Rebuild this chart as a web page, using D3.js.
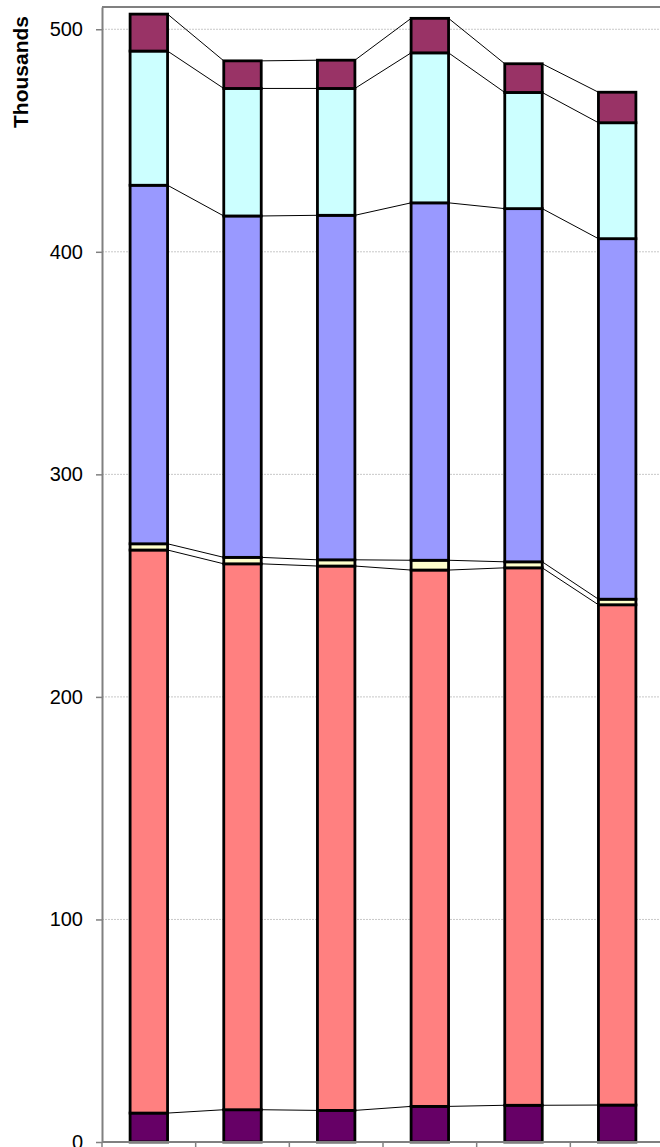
<!DOCTYPE html>
<html>
<head>
<meta charset="utf-8">
<script src="https://cdn.jsdelivr.net/npm/d3@7"></script>
<style>
body {margin:0; background:#fff; overflow:hidden}
text {font-family: Arial, "Liberation Sans", sans-serif}
</style>
</head>
<body>
<script>
// values in thousands (bottom series first)
var categories = ["1", "2", "3", "4", "5", "6"]
var purpleVals = [13.0, 14.5, 14.2, 16.0, 16.5, 16.6]
var redVals    = [253.0, 245.3, 244.6, 241.0, 241.5, 224.8]
var yellowVals = [2.8, 2.9, 2.8, 4.4, 2.7, 2.5]
var blueVals   = [161.1, 153.4, 154.8, 160.6, 158.7, 162.0]
var cyanVals   = [60.3, 57.3, 57.0, 67.4, 52.2, 52.1]
var maroonVals = [16.6, 12.4, 12.7, 15.5, 12.9, 13.7]
var seriesKeys = ["purple", "red", "yellow", "blue", "cyan", "maroon"]
var seriesColors = ["#660066", "#FF8080", "#FFFFCC", "#9999FF", "#CCFFFF", "#993366"]
var yTicks = [0, 100, 200, 300, 400, 500]

var setup = function()
{
    var screen = {width: 660, height: 1147}
    var margins = {top: 7, left: 102}
    var plotRight = 664
    var zeroY = 1142

    // table for d3.stack
    var rows = categories.map(function(c, i) {
        return {cat: c, purple: purpleVals[i], red: redVals[i], yellow: yellowVals[i],
                blue: blueVals[i], cyan: cyanVals[i], maroon: maroonVals[i]}
    })
    var stacked = d3.stack().keys(seriesKeys)(rows)

    var xScale = d3.scaleBand()
        .domain(categories)
        .range([margins.left, plotRight])
        .paddingInner(0.6)
        .paddingOuter(0.3)

    var yScale = d3.scaleLinear()
        .domain([0, 510])
        .range([zeroY, margins.top])

    var cScale = d3.scaleOrdinal().domain(seriesKeys).range(seriesColors)

    var svg = d3.select("body")
        .append("svg")
        .attr("width", screen.width)
        .attr("height", screen.height)

    // gridlines
    svg.append("g")
        .selectAll("line")
        .data(yTicks.filter(function(t) { return t > 0 }))
        .enter()
        .append("line")
        .attr("x1", margins.left)
        .attr("x2", plotRight)
        .attr("y1", function(d) { return yScale(d) })
        .attr("y2", function(d) { return yScale(d) })
        .attr("stroke", "#c8c8c8")
        .attr("stroke-width", 1)
        .attr("stroke-dasharray", "2,1")

    // top border of plot area
    svg.append("line")
        .attr("x1", margins.left).attr("x2", plotRight)
        .attr("y1", margins.top).attr("y2", margins.top)
        .attr("stroke", "#808080")
        .attr("stroke-width", 2)

    // series lines between the bars
    var bw = xScale.bandwidth()
    var segs = []
    stacked.forEach(function(s) {
        for (var i = 0; i < s.length - 1; i++) {
            segs.push({x1: xScale(categories[i]) + bw, y1: yScale(s[i][1]),
                       x2: xScale(categories[i + 1]), y2: yScale(s[i + 1][1])})
        }
    })
    svg.append("g")
        .selectAll("line")
        .data(segs)
        .enter()
        .append("line")
        .attr("x1", function(d) { return d.x1 })
        .attr("y1", function(d) { return d.y1 })
        .attr("x2", function(d) { return d.x2 })
        .attr("y2", function(d) { return d.y2 })
        .attr("stroke", "#000")
        .attr("stroke-width", 1)

    // bars
    svg.append("g")
        .selectAll("g")
        .data(stacked)
        .enter()
        .append("g")
        .attr("fill", function(d) { return cScale(d.key) })
        .selectAll("rect")
        .data(function(d) { return d })
        .enter()
        .append("rect")
        .attr("x", function(d) { return xScale(d.data.cat) })
        .attr("y", function(d) { return yScale(d[1]) })
        .attr("width", bw)
        .attr("height", function(d) { return yScale(d[0]) - yScale(d[1]) })
        .attr("stroke", "#000")
        .attr("stroke-width", 2.8)

    // y axis
    var yAxis = d3.axisLeft(yScale)
        .tickValues(yTicks)
        .tickSize(6)
        .tickSizeOuter(0)
        .tickPadding(13)
        .tickFormat(d3.format("d"))

    var ya = svg.append("g")
        .attr("id", "yAxis")
        .attr("transform", "translate(" + margins.left + ",0)")
        .call(yAxis)
    ya.select(".domain").attr("stroke", "#808080").attr("stroke-width", 2)
    ya.selectAll(".tick line").attr("stroke", "#808080").attr("stroke-width", 1.5)
    ya.selectAll(".tick text")
        .attr("fill", "#000")
        .style("font-size", "20px")
        .style("font-family", "Arial, 'Liberation Sans', sans-serif")

    // x axis line with category ticks between bars
    var step = xScale.step()
    var xTicks = categories.map(function(c) { return xScale(c) - step * 0.3 })
    xTicks.push(xScale(categories[categories.length - 1]) + bw + step * 0.3)
    svg.append("line")
        .attr("x1", margins.left).attr("x2", plotRight)
        .attr("y1", zeroY).attr("y2", zeroY)
        .attr("stroke", "#808080")
        .attr("stroke-width", 2)
    svg.append("g")
        .selectAll("line")
        .data(xTicks)
        .enter()
        .append("line")
        .attr("x1", function(d) { return d })
        .attr("x2", function(d) { return d })
        .attr("y1", zeroY)
        .attr("y2", zeroY + 6)
        .attr("stroke", "#808080")
        .attr("stroke-width", 1.5)

    // axis title
    svg.append("text")
        .attr("transform", "translate(28,72) rotate(-90)")
        .style("text-anchor", "middle")
        .style("font-weight", "bold")
        .style("font-size", "21px")
        .text("Thousands")
}

setup()
</script>
</body>
</html>
